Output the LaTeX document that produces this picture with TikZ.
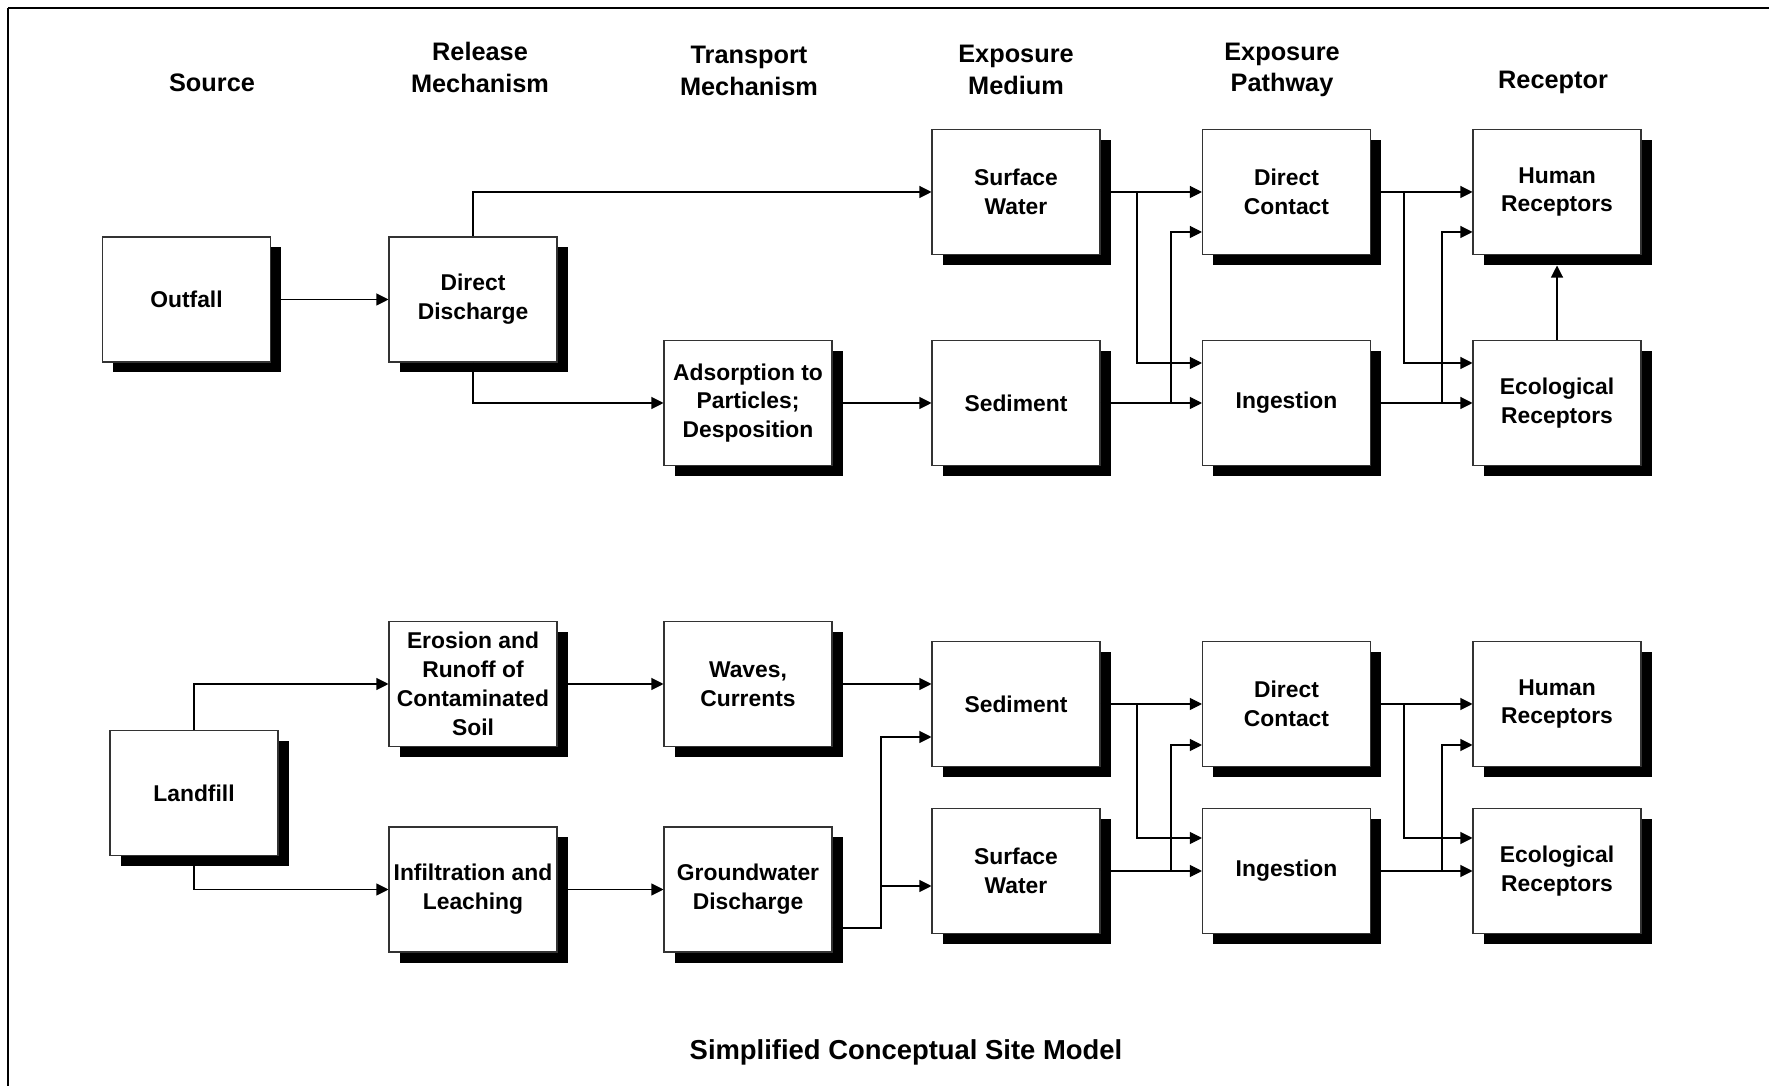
\documentclass[tikz,border=0pt]{standalone}
\usepackage{fontspec}
\setmainfont{Liberation Sans}
\usetikzlibrary{arrows.meta, shadows}

\begin{document}
\begin{tikzpicture}[
    box/.style={rectangle, draw=black!80, line width=0.6pt, fill=white,
                minimum width=3.36cm, minimum height=2.5cm, align=center,
                inner sep=1pt, font=\fontsize{13}{16.4}\selectfont\bfseries,
                drop shadow={shadow xshift=0.21cm, shadow yshift=-0.21cm,
                             fill=black, opacity=1}},
    head/.style={align=center, font=\fontsize{14.4}{17.8}\selectfont\bfseries},
    titletext/.style={font=\fontsize{15.6}{18}\selectfont\bfseries},
    arrow/.style={-{Triangle[length=0.24cm, width=0.24cm]}, line width=0.6pt}
]

    \useasboundingbox (0,0) rectangle (35.38,-21.72);

    % Frame
    \draw[line width=1.2pt] (0.16,-0.16) -- (35.38,-0.16);
    \draw[line width=0.8pt] (0.16,-0.16) -- (0.16,-21.72);

    % Column headings
    \node[head] (hsrc) at (4.24, -1.66) {Source};
    \node[head] (hrel) at (9.60, -1.35) {Release\\Mechanism};
    \node[head] (htra) at (14.98, -1.42) {Transport\\Mechanism};
    \node[head] (hmed) at (20.32, -1.40) {Exposure\\Medium};
    \node[head] (hpath) at (25.64, -1.40) {Exposure\\Pathway};
    \node[head] (hrec) at (31.06, -1.64) {Receptor};

    % Outfall branch
    \node[box] (outfall) at (3.73, -5.99) {Outfall};
    \node[box] (ddis) at (9.46, -5.99) {Direct\\Discharge};
    \node[box] (adsorp) at (14.96, -8.06) {Adsorption to\\Particles;\\Desposition};
    \node[box] (swtop) at (20.32, -3.84) {Surface\\Water};
    \node[box] (sedtop) at (20.32, -8.06) {Sediment};
    \node[box] (dctop) at (25.73, -3.84) {Direct\\Contact};
    \node[box] (ingtop) at (25.73, -8.06) {Ingestion};
    \node[box] (humtop) at (31.14, -3.84) {Human\\Receptors};
    \node[box] (ecotop) at (31.14, -8.06) {Ecological\\Receptors};

    % Landfill branch
    \node[box] (landfill) at (3.88, -15.86) {Landfill};
    \node[box] (erosion) at (9.46, -13.68) {Erosion and\\Runoff of\\Contaminated\\Soil};
    \node[box] (infil) at (9.46, -17.79) {Infiltration and\\Leaching};
    \node[box] (waves) at (14.96, -13.68) {Waves,\\Currents};
    \node[box] (gwd) at (14.96, -17.79) {Groundwater\\Discharge};
    \node[box] (sedbot) at (20.32, -14.08) {Sediment};
    \node[box] (swbot) at (20.32, -17.42) {Surface\\Water};
    \node[box] (dcbot) at (25.73, -14.08) {Direct\\Contact};
    \node[box] (ingbot) at (25.73, -17.42) {Ingestion};
    \node[box] (humbot) at (31.14, -14.08) {Human\\Receptors};
    \node[box] (ecobot) at (31.14, -17.42) {Ecological\\Receptors};

    % Branch points
    \coordinate (t1) at (22.74, -3.84);
    \coordinate (t2) at (23.42, -8.06);
    \coordinate (t3) at (28.08, -3.84);
    \coordinate (t4) at (28.84, -8.06);
    \coordinate (b1) at (22.74, -14.08);
    \coordinate (b2) at (23.42, -17.42);
    \coordinate (b3) at (28.08, -14.08);
    \coordinate (b4) at (28.84, -17.42);
    \coordinate (gj) at (17.62, -18.56);

    % Arrows, outfall
    \draw[arrow] (outfall) -- (ddis);
    \draw[arrow] (ddis.north) |- (swtop.west);
    \draw[arrow] (ddis.south) |- (adsorp.west);
    \draw[arrow] (adsorp) -- (sedtop);
    \draw[arrow] (swtop) -- (dctop);
    \draw[arrow] (sedtop) -- (ingtop);
    \draw[arrow] (t1) |- ([yshift=0.8cm]ingtop.west);
    \draw[arrow] (t2) |- ([yshift=-0.8cm]dctop.west);
    \draw[arrow] (dctop) -- (humtop);
    \draw[arrow] (ingtop) -- (ecotop);
    \draw[arrow] (t3) |- ([yshift=0.8cm]ecotop.west);
    \draw[arrow] (t4) |- ([yshift=-0.8cm]humtop.west);
    \draw[arrow] (ecotop.north) -- ([yshift=-0.21cm]humtop.south);

    % Arrows, landfill
    \draw[arrow] (landfill.north) |- (erosion.west);
    \draw[arrow] (landfill.south) |- (infil.west);
    \draw[arrow] (erosion) -- (waves);
    \draw[arrow] (infil) -- (gwd);
    \draw[arrow] (waves.east) -- (waves.east -| sedbot.west);
    \draw[arrow] ([yshift=-0.77cm]gwd.east) -- (gj) |- ([yshift=-0.66cm]sedbot.west);
    \draw[arrow] ([yshift=-0.3cm]swbot.west -| gj) -- ([yshift=-0.3cm]swbot.west);
    \draw[arrow] (sedbot) -- (dcbot);
    \draw[arrow] (swbot) -- (ingbot);
    \draw[arrow] (b1) |- ([yshift=0.66cm]ingbot.west);
    \draw[arrow] (b2) |- ([yshift=-0.82cm]dcbot.west);
    \draw[arrow] (dcbot) -- (humbot);
    \draw[arrow] (ingbot) -- (ecobot);
    \draw[arrow] (b3) |- ([yshift=0.66cm]ecobot.west);
    \draw[arrow] (b4) |- ([yshift=-0.82cm]humbot.west);

    % Title
    \node[titletext] (title) at (18.12, -21.04) {Simplified Conceptual Site Model};

\end{tikzpicture}
\end{document}
